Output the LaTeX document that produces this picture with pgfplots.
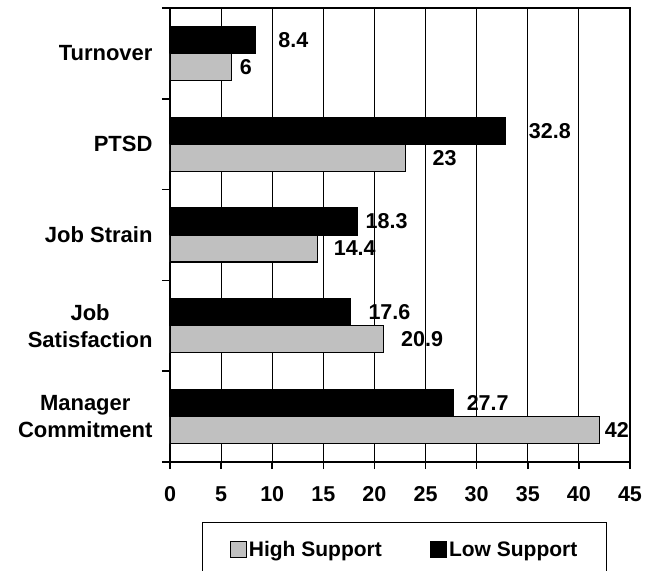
\documentclass[border=0pt]{standalone}
\usepackage{pgfplots}
\usepackage{pgfplotstable}
\pgfplotsset{compat=1.18}
\usepackage{fontspec}
\setmainfont{Liberation Sans}
\definecolor{silv}{RGB}{192,192,192}

\pgfplotstableread{
y val off
0 42 5
1 20.9 17
2 14.4 16
3 23 27
4 6 8
}\high
\pgfplotstableread{
y val off
0 27.7 13
1 17.6 18
2 18.3 8
3 32.8 23
4 8.4 22
}\low

\begin{document}
\begin{tikzpicture}[font=\fontsize{22bp}{26bp}\selectfont\bfseries]
\begin{axis}[at={(0,0)}, anchor=south west, scale only axis,
  width=460bp, height=454bp,
  /pgf/number format/assume math mode=true,
  xbar, bar width=27bp,
  xmin=0, xmax=45, ymin=-0.5, ymax=4.5,
  xtick={0,5,...,45},
  ytick={0,...,4},
  yticklabels={{Manager\\Commitment},{Job\\Satisfaction},{Job Strain},PTSD,Turnover},
  yticklabel style={align=center, font=\fontsize{22bp}{27bp}\selectfont\bfseries, xshift=-7bp},
  xticklabel style={font=\fontsize{21.5bp}{24bp}\selectfont\bfseries, yshift=-14bp},
  minor ytick={-0.5,0.5,...,4.5},
  major y tick style={draw=none},
  tick align=outside, major tick length=7bp, minor tick length=8bp,
  xtick pos=bottom, ytick pos=left,
  tick style={black, line width=1.5bp},
  xmajorgrids, grid style={black, line width=0.8bp},
  axis line style={line width=1.5bp},
  nodes near coords,
  visualization depends on={\thisrow{off} \as \off},
  nodes near coords style={anchor=west, inner sep=0pt, xshift=\off bp,
    font=\fontsize{21.5bp}{24bp}\selectfont\bfseries, black},
  legend columns=2,
  legend style={at={(0.5098,-0.1315)}, anchor=north, draw=black, line width=1.5bp,
    inner xsep=27bp, inner ysep=17bp,
    font=\fontsize{21bp}{26bp}\selectfont\bfseries,
    /tikz/every even column/.style={column sep=46bp},
    nodes={inner xsep=2bp}},
  legend image code/.code={\draw[#1, line width=1.2bp] (0bp,-8bp) rectangle (16bp,8bp);},
]
\addplot[fill=silv, draw=black, line width=1.2bp, bar shift=-13.5bp] table[x=val, y=y] {\high};
\addplot[fill=black, draw=black, line width=1.2bp, bar shift=13.5bp] table[x=val, y=y] {\low};
\legend{High Support, Low Support}
\end{axis}
\pgfresetboundingbox
\path[use as bounding box] (-170bp,-109bp) rectangle (482bp,462bp);
\end{tikzpicture}
\end{document}
